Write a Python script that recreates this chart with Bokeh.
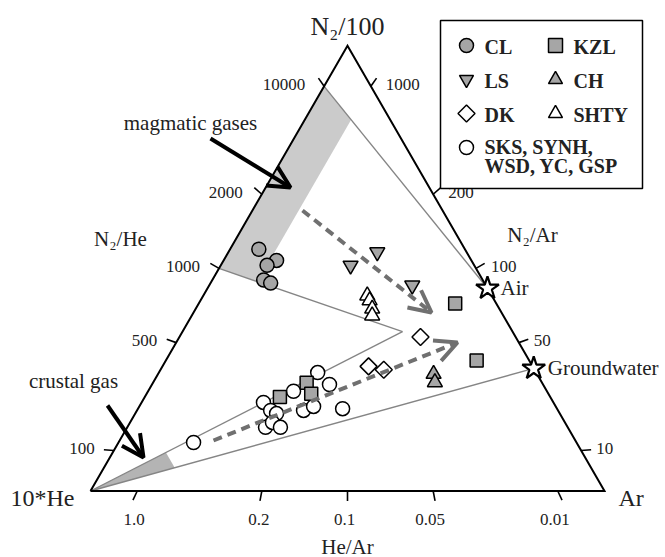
import numpy as np
from bokeh.plotting import figure
from bokeh.models import Range1d, Arrow, OpenHead
from bokeh.core.properties import value
from bokeh.embed import file_html
from bokeh.resources import INLINE

# ---------------- data (ternary composition, %: N2/100, 10*He, Ar) ----------------
cl_n2 = [54.3, 51.8, 50.7, 47.4, 46.7]
cl_he = [40.1, 37.9, 40.3, 42.6, 41.6]
cl_ar = [5.6, 10.3, 9.0, 10.0, 11.7]

kzl_n2 = [42.1, 29.3, 21.1, 24.3, 21.8]
kzl_he = [8.0, 10.2, 52.6, 45.8, 46.1]
kzl_ar = [49.9, 60.4, 26.3, 29.9, 32.0]

ls_n2 = [53.7, 50.7, 46.2]
ls_he = [17.4, 24.1, 14.3]
ls_ar = [29.0, 25.3, 39.5]

ch_n2 = [26.3, 24.4]
ch_he = [20.1, 20.8]
ch_ar = [53.6, 54.8]

dk_n2 = [34.6, 28.0, 27.2]
dk_he = [18.5, 31.9, 29.3]
dk_ar = [46.9, 40.1, 43.4]

shty_n2 = [43.9, 42.8, 40.9, 39.4]
shty_he = [24.2, 24.3, 24.7, 25.5]
shty_ar = [31.9, 32.9, 34.3, 35.1]

oth_n2 = [19.9, 18.1, 17.4, 14.3, 15.4, 14.3, 22.4, 18.1, 19.0, 26.6, 23.9, 18.5, 10.9]
oth_he = [56.4, 55.9, 55.1, 58.8, 56.9, 55.9, 49.3, 49.5, 47.1, 42.5, 41.5, 41.7, 74.5]
oth_ar = [23.7, 26.0, 27.5, 26.9, 27.7, 29.8, 28.3, 32.4, 33.9, 30.9, 34.5, 39.8, 14.6]

# end members (ratios)
air_n2_ar = 83.6
gw_n2_ar = 38.0
mix_he_ar = 0.05          # end of the air-He mixing line
magma_n2_he = [10000, 1000]
magma_ar_frac = 0.09      # width of magmatic band (Ar fraction)
crust_he_frac = 0.81      # crustal gas wedge limit (10*He fraction)

# tick values
left_ticks = [10000, 2000, 1000, 500, 100]        # N2/He
right_ticks = [1000, 200, 100, 50, 10]            # N2/Ar
bottom_ticks = [1.0, 0.2, 0.1, 0.05, 0.01]        # He/Ar
bottom_labels = ["1.0", "0.2", "0.1", "0.05", "0.01"]

# ---------------- ternary geometry ----------------
LX, BASE_Y, SIDE = 90.0, 490.5, 514.0
HGT = SIDE * np.sqrt(3) / 2


def tern(n2, he, ar):
    n2 = np.asarray(n2, float); he = np.asarray(he, float); ar = np.asarray(ar, float)
    s = n2 + he + ar
    a = n2 / s
    c = ar / s
    return LX + SIDE * (c + a / 2), BASE_Y - HGT * a


TOP = tern(1, 0, 0)
LEFT = tern(0, 1, 0)
RIGHT = tern(0, 0, 1)

p = figure(width=665, height=557, x_range=Range1d(0, 665), y_range=Range1d(557, 0),
           output_backend="svg", toolbar_location=None, x_axis_type=None, y_axis_type=None,
           min_border=0, background_fill_color="white", border_fill_color="white")
p.outline_line_color = None
p.xgrid.visible = False
p.ygrid.visible = False

FONT = value("Liberation Serif")
TXT = "#222222"

# compositions of key points (N2/100, 10He, Ar)
air_c = (air_n2_ar / 100, 0, 1)
gw_c = (gw_n2_ar / 100, 0, 1)
pm_c = (air_n2_ar / 100, 10 * mix_he_ar, 1)
v1_c = (magma_n2_he[0] / 1000, 1, 0)
m_c = (magma_n2_he[1] / 1000, 1, 0)


def norm(cmp):
    return np.array(cmp, float) / sum(cmp)


AIR = tern(*air_c)
GW = tern(*gw_c)
PM = tern(*pm_c)
V1 = tern(*v1_c)
M = tern(*m_c)

# magmatic band: Ar fraction up to magma_ar_frac
n_air = norm(air_c); n_v1 = norm(v1_c); n_pm = norm(pm_c); n_m = norm(m_c)
t1 = magma_ar_frac / n_air[2]
V2 = tern(*(n_v1 + (n_air - n_v1) * t1))
t2 = magma_ar_frac / n_pm[2]
V3 = tern(*(n_m + (n_pm - n_m) * t2))
p.patch([V1[0], V2[0], V3[0], M[0]], [V1[1], V2[1], V3[1], M[1]],
        fill_color="#cbcbcb", line_color=None)

# crustal wedge
rest = 1 - crust_he_frac
ua = air_c[0] / (1 + air_c[0]) * rest
ga = gw_c[0] / (1 + gw_c[0]) * rest
U = tern(ua, crust_he_frac, rest - ua)
G = tern(ga, crust_he_frac, rest - ga)
p.patch([LEFT[0], U[0], G[0]], [LEFT[1], U[1], G[1]], fill_color="#b4b4b4", line_color=None)

# thin grey lines
for a_, b_ in [(V1, AIR), (M, PM), (LEFT, PM), (LEFT, GW)]:
    p.line([a_[0], b_[0]], [a_[1], b_[1]], line_color="#858585", line_width=1.4)

# triangle
p.line([LEFT[0], TOP[0], RIGHT[0], LEFT[0]], [LEFT[1], TOP[1], RIGHT[1], LEFT[1]],
       line_color="black", line_width=2, line_join="miter")

# ticks
TL = 10


def tick(edge, opp):
    d = np.array(edge) - np.array(opp)
    d = d / np.linalg.norm(d)
    return (edge[0], edge[0] + d[0] * TL), (edge[1], edge[1] + d[1] * TL)


txs, tys = [], []
lx, ly, lt = [], [], []
for r in left_ticks:
    e = tern(r / 1000, 1, 0)
    xs, ys = tick(e, RIGHT); txs.append(list(xs)); tys.append(list(ys))
    lx.append(e[0] - 19); ly.append(e[1] - 2); lt.append(str(r))
p.text(lx, ly, text=lt, text_font=FONT, text_font_size="17px", text_align="right",
       text_baseline="middle", text_color=TXT)
rx, ry, rt = [], [], []
for r in right_ticks:
    e = tern(r / 100, 0, 1)
    xs, ys = tick(e, LEFT); txs.append(list(xs)); tys.append(list(ys))
    rx.append(e[0] + 15); ry.append(e[1] - 2); rt.append(str(r))
p.text(rx, ry, text=rt, text_font=FONT, text_font_size="17px", text_align="left",
       text_baseline="middle", text_color=TXT)
bx, by = [], []
for r in bottom_ticks:
    e = tern(0, 10 * r, 1)
    xs, ys = tick(e, TOP); txs.append(list(xs)); tys.append(list(ys))
    bx.append(e[0] - 3); by.append(e[1] + 28)
p.text(bx, by, text=bottom_labels, text_font=FONT, text_font_size="17px", text_align="center",
       text_baseline="middle", text_color=TXT)
p.multi_line(txs, tys, line_color="black", line_width=1.6)

# axis / vertex labels
p.text([TOP[0]], [TOP[1] - 19], text=["N\u2082/100"], text_font=FONT, text_font_size="26px",
       text_align="center", text_baseline="middle", text_color=TXT)
p.text([LEFT[0] - 16], [LEFT[1] + 7], text=["10*He"], text_font=FONT, text_font_size="24px",
       text_align="right", text_baseline="middle", text_color=TXT)
p.text([RIGHT[0] + 14], [RIGHT[1] + 7], text=["Ar"], text_font=FONT, text_font_size="24px",
       text_align="left", text_baseline="middle", text_color=TXT)
p.text([120, 532, 347], [238, 234, 546], text=["N\u2082/He", "N\u2082/Ar", "He/Ar"], text_font=FONT,
       text_font_size="21px", text_align="center", text_baseline="middle", text_color=TXT)

# annotations
p.text([190, 73], [122, 380], text=["magmatic gases", "crustal gas"], text_font=FONT,
       text_font_size="21px", text_align="center", text_baseline="middle", text_color=TXT)
p.text([AIR[0] + 13, GW[0] + 14], [AIR[1], GW[1]], text=["Air", "Groundwater"], text_font=FONT,
       text_font_size="21px", text_align="left", text_baseline="middle", text_color=TXT)

p.add_layout(Arrow(end=OpenHead(size=22, line_width=4, line_color="black"),
                   x_start=210, y_start=138, x_end=290, y_end=187, line_width=4, line_color="black"))
p.add_layout(Arrow(end=OpenHead(size=22, line_width=4, line_color="black"),
                   x_start=107, y_start=405, x_end=143, y_end=457, line_width=4, line_color="black"))
GREY = "#707070"
p.add_layout(Arrow(end=OpenHead(size=22, line_width=4, line_color=GREY),
                   x_start=302, y_start=210, x_end=431, y_end=312, line_width=4, line_color=GREY,
                   line_dash="9 6"))
p.add_layout(Arrow(end=OpenHead(size=22, line_width=4, line_color=GREY),
                   x_start=213, y_start=440, x_end=457, y_end=342, line_width=4, line_color=GREY,
                   line_dash="9 6"))

# data points
FILL = "#a6a6a6"
x, y = tern(oth_n2, oth_he, oth_ar)
p.scatter(x, y, marker="circle", size=14, fill_color="white", line_color="black", line_width=1.5)
x, y = tern(kzl_n2, kzl_he, kzl_ar)
p.scatter(x, y, marker="square", size=13, fill_color=FILL, line_color="black", line_width=1.5)
x, y = tern(cl_n2, cl_he, cl_ar)
p.scatter(x, y, marker="circle", size=14, fill_color=FILL, line_color="black", line_width=1.5)
x, y = tern(ls_n2, ls_he, ls_ar)
p.scatter(x, y, marker="inverted_triangle", size=15, fill_color=FILL, line_color="black", line_width=1.5)
x, y = tern(ch_n2, ch_he, ch_ar)
p.scatter(x, y, marker="triangle", size=15, fill_color=FILL, line_color="black", line_width=1.5)
x, y = tern(shty_n2, shty_he, shty_ar)
p.scatter(x, y, marker="triangle", size=15, fill_color="white", line_color="black", line_width=1.5)
x, y = tern(dk_n2, dk_he, dk_ar)
p.scatter(x, y, marker="square", angle=np.pi / 4, size=12, fill_color="white", line_color="black",
          line_width=1.5)
p.scatter([AIR[0], GW[0]], [AIR[1], GW[1]], marker="star", size=24, fill_color="white",
          line_color="black", line_width=2.2)

# legend box
p.quad(left=[440], right=[642], top=[20], bottom=[188], fill_color="white", line_color="black",
       line_width=1.5)
leg = [("circle", FILL, 0, 466, 45), ("square", FILL, 0, 555, 45),
       ("inverted_triangle", FILL, 0, 466, 79), ("triangle", FILL, 0, 555, 79),
       ("square", "white", np.pi / 4, 466, 113), ("triangle", "white", 0, 555, 113),
       ("circle", "white", 0, 466, 147)]
for mk, fc, ang, lxp, lyp in leg:
    sz = 12 if mk == "square" and ang else 14
    p.scatter([lxp], [lyp], marker=mk, size=sz, angle=ang, fill_color=fc, line_color="black",
              line_width=1.5)
p.text([484, 573, 484, 573, 484, 573, 484, 484], [46, 46, 80, 80, 114, 114, 146, 165],
       text=["CL", "KZL", "LS", "CH", "DK", "SHTY", "SKS, SYNH,", "WSD, YC, GSP"],
       text_font=FONT, text_font_size="20px", text_font_style="bold", text_align="left",
       text_baseline="middle", text_color=TXT)

open("out.html", "w").write(file_html(p, INLINE))
